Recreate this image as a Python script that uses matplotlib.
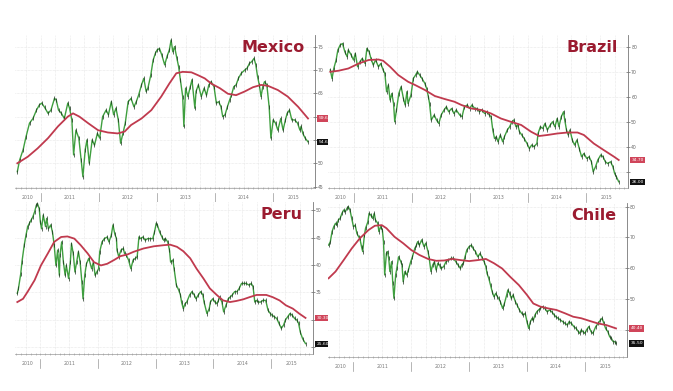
import numpy as np
import matplotlib
matplotlib.use("Agg")
import matplotlib.pyplot as plt
import matplotlib.transforms as mtransforms

# ---- data (fractional years, index level) ----
mx_x = [2010.60, 2010.64, 2010.70, 2010.75, 2010.81, 2010.87, 2010.93, 2010.98, 2011.02, 2011.07,
        2011.13, 2011.18, 2011.24, 2011.27, 2011.31, 2011.36, 2011.41, 2011.47, 2011.50, 2011.54,
        2011.57, 2011.61, 2011.66, 2011.70, 2011.73, 2011.77, 2011.80, 2011.84, 2011.89, 2011.93,
        2011.98, 2012.02, 2012.07, 2012.13, 2012.17, 2012.22, 2012.26, 2012.30, 2012.34, 2012.38,
        2012.42, 2012.46, 2012.51, 2012.56, 2012.61, 2012.65, 2012.69, 2012.74, 2012.78, 2012.82,
        2012.85, 2012.90, 2012.94, 2012.98, 2013.01, 2013.05, 2013.09, 2013.14, 2013.18, 2013.22,
        2013.25, 2013.28, 2013.31, 2013.35, 2013.38, 2013.41, 2013.45, 2013.47, 2013.50, 2013.54,
        2013.58, 2013.61, 2013.66, 2013.68, 2013.72, 2013.77, 2013.82, 2013.86, 2013.90, 2013.94,
        2013.99, 2014.03, 2014.07, 2014.11, 2014.14, 2014.18, 2014.22, 2014.26, 2014.29, 2014.33,
        2014.37, 2014.41, 2014.46, 2014.52, 2014.56, 2014.60, 2014.64, 2014.68, 2014.71, 2014.74,
        2014.77, 2014.80, 2014.83, 2014.86, 2014.90, 2014.94, 2014.97, 2015.01, 2015.05, 2015.09,
        2015.14, 2015.18, 2015.22, 2015.25, 2015.29, 2015.33, 2015.38, 2015.43, 2015.47, 2015.49,
        2015.52, 2015.56, 2015.61]
mx_y = [48.2, 50.7, 52.9, 55.7, 58.6, 59.6, 61.4, 62.5, 62.9, 62.0,
        60.7, 61.4, 63.9, 63.6, 61.4, 60.7, 59.6, 62.9, 61.8, 59.3,
        51.8, 57.1, 55.4, 50.7, 47.1, 52.9, 55.0, 50.0, 55.0, 53.9,
        56.4, 55.4, 60.0, 61.4, 60.4, 63.2, 60.4, 61.8, 59.3, 54.3,
        56.4, 58.6, 63.2, 63.9, 62.1, 63.2, 64.6, 66.8, 68.2, 65.4,
        66.1, 68.9, 72.1, 73.6, 74.3, 74.6, 73.2, 71.1, 72.9, 74.3,
        76.4, 73.9, 75.0, 72.5, 70.7, 67.9, 64.3, 57.9, 66.1, 64.3,
        66.4, 67.9, 61.8, 65.4, 66.8, 64.3, 66.1, 64.6, 66.8, 67.5,
        66.4, 62.9, 63.2, 62.1, 60.0, 60.4, 62.1, 63.6, 64.6, 66.4,
        66.8, 68.2, 69.3, 70.0, 70.4, 71.4, 71.8, 72.5, 71.1, 68.6,
        66.8, 64.3, 66.4, 67.5, 66.8, 62.1, 55.4, 59.3, 58.6, 57.1,
        59.6, 57.1, 59.3, 60.7, 61.4, 59.3, 59.3, 58.6, 57.1, 57.9,
        56.4, 55.4, 54.6]
mx_ma_x = [2010.60, 2010.78, 2010.95, 2011.13, 2011.30, 2011.47, 2011.56, 2011.67, 2011.82, 2011.99,
           2012.16, 2012.33, 2012.45, 2012.56, 2012.74, 2012.91, 2013.08, 2013.22, 2013.34, 2013.45,
           2013.60, 2013.71, 2013.83, 2013.94, 2014.09, 2014.23, 2014.37, 2014.52, 2014.66, 2014.80,
           2014.92, 2015.09, 2015.26, 2015.44, 2015.61]
mx_ma_y = [50.0, 51.4, 53.2, 55.4, 57.9, 60.0, 60.7, 60.0, 58.6, 57.1,
           56.6, 56.4, 56.8, 58.2, 59.6, 61.4, 64.3, 67.1, 69.3, 69.6,
           69.5, 68.9, 68.2, 67.1, 66.1, 64.9, 64.6, 65.4, 66.3, 66.8,
           66.6, 65.7, 64.3, 62.1, 59.6]

br_x = [2010.60, 2010.63, 2010.66, 2010.70, 2010.73, 2010.77, 2010.81, 2010.85, 2010.89, 2010.91,
        2010.96, 2011.00, 2011.03, 2011.07, 2011.11, 2011.15, 2011.20, 2011.23, 2011.27, 2011.30,
        2011.34, 2011.38, 2011.43, 2011.47, 2011.51, 2011.54, 2011.57, 2011.60, 2011.63, 2011.66,
        2011.69, 2011.71, 2011.74, 2011.78, 2011.82, 2011.86, 2011.89, 2011.92, 2011.94, 2011.99,
        2012.03, 2012.07, 2012.10, 2012.14, 2012.18, 2012.23, 2012.26, 2012.29, 2012.31, 2012.34,
        2012.39, 2012.43, 2012.47, 2012.51, 2012.56, 2012.60, 2012.64, 2012.69, 2012.73, 2012.77,
        2012.83, 2012.87, 2012.91, 2012.96, 2013.00, 2013.04, 2013.09, 2013.13, 2013.17, 2013.21,
        2013.26, 2013.30, 2013.34, 2013.37, 2013.40, 2013.43, 2013.46, 2013.49, 2013.53, 2013.57,
        2013.60, 2013.65, 2013.69, 2013.73, 2013.76, 2013.80, 2013.83, 2013.86, 2013.90, 2013.94,
        2013.99, 2014.03, 2014.07, 2014.11, 2014.16, 2014.18, 2014.22, 2014.26, 2014.30, 2014.34,
        2014.39, 2014.43, 2014.47, 2014.51, 2014.54, 2014.58, 2014.62, 2014.64, 2014.67, 2014.70,
        2014.73, 2014.77, 2014.81, 2014.85, 2014.89, 2014.93, 2014.97, 2015.02, 2015.06, 2015.10,
        2015.13, 2015.17, 2015.21, 2015.26, 2015.30, 2015.34, 2015.38, 2015.43, 2015.47, 2015.50,
        2015.53, 2015.57]
br_y = [70.7, 67.3, 71.3, 74.7, 78.7, 80.7, 81.3, 78.0, 76.0, 78.7,
        76.7, 74.7, 77.3, 72.0, 74.0, 75.3, 73.3, 79.3, 78.0, 75.3,
        72.7, 74.7, 72.0, 73.3, 70.7, 69.3, 62.0, 64.7, 58.7, 61.3,
        57.3, 50.0, 54.7, 61.3, 64.0, 59.3, 56.7, 62.0, 57.3, 60.7,
        67.3, 68.7, 70.0, 68.7, 67.3, 65.3, 63.3, 60.0, 57.3, 50.7,
        52.7, 50.7, 49.3, 52.7, 54.7, 56.0, 54.0, 55.3, 53.3, 54.7,
        52.7, 52.0, 56.0, 56.7, 55.3, 56.7, 55.3, 55.3, 54.0, 54.7,
        53.3, 54.0, 52.7, 52.0, 46.7, 43.3, 44.0, 42.0, 44.7, 42.0,
        44.0, 46.7, 48.0, 50.0, 50.7, 48.0, 48.7, 46.0, 44.7, 43.3,
        41.3, 39.3, 40.7, 40.0, 41.3, 45.3, 48.0, 47.3, 49.3, 46.7,
        48.7, 50.0, 48.0, 51.3, 48.0, 52.0, 54.0, 50.7, 46.7, 44.7,
        46.7, 42.7, 40.7, 42.7, 39.3, 36.0, 37.3, 35.3, 36.0, 34.0,
        30.0, 32.0, 34.7, 36.7, 36.0, 34.0, 33.3, 34.0, 32.0, 29.3,
        28.0, 26.0]
br_ma_x = [2010.60, 2010.74, 2010.91, 2011.09, 2011.26, 2011.43, 2011.51, 2011.63, 2011.77, 2011.94,
           2012.06, 2012.23, 2012.40, 2012.57, 2012.74, 2012.86, 2013.03, 2013.20, 2013.37, 2013.54,
           2013.71, 2013.89, 2014.06, 2014.20, 2014.34, 2014.51, 2014.69, 2014.86, 2014.97, 2015.14,
           2015.31, 2015.49, 2015.57]
br_ma_y = [70.0, 70.4, 71.3, 73.3, 74.7, 74.9, 74.4, 72.0, 68.7, 66.0,
           64.7, 62.7, 60.3, 59.1, 58.0, 56.7, 55.3, 54.7, 53.3, 51.3,
           50.0, 48.7, 46.0, 44.3, 44.7, 45.3, 45.7, 45.7, 44.7, 41.3,
           38.7, 36.0, 34.7]

pe_x = [2010.60, 2010.62, 2010.66, 2010.68, 2010.72, 2010.75, 2010.78, 2010.81, 2010.84, 2010.87,
        2010.90, 2010.93, 2010.95, 2010.98, 2011.00, 2011.02, 2011.05, 2011.09, 2011.11, 2011.14,
        2011.18, 2011.21, 2011.24, 2011.27, 2011.30, 2011.33, 2011.34, 2011.37, 2011.40, 2011.43,
        2011.45, 2011.49, 2011.52, 2011.54, 2011.57, 2011.60, 2011.63, 2011.66, 2011.69, 2011.72,
        2011.74, 2011.77, 2011.80, 2011.84, 2011.89, 2011.92, 2011.95, 2011.98, 2012.01, 2012.03,
        2012.07, 2012.11, 2012.16, 2012.19, 2012.23, 2012.26, 2012.29, 2012.32, 2012.33, 2012.36,
        2012.40, 2012.44, 2012.46, 2012.49, 2012.53, 2012.57, 2012.61, 2012.65, 2012.68, 2012.71,
        2012.74, 2012.78, 2012.82, 2012.86, 2012.91, 2012.95, 2012.98, 2013.01, 2013.03, 2013.07,
        2013.11, 2013.14, 2013.17, 2013.21, 2013.24, 2013.26, 2013.30, 2013.32, 2013.36, 2013.40,
        2013.43, 2013.45, 2013.48, 2013.51, 2013.54, 2013.59, 2013.63, 2013.67, 2013.70, 2013.74,
        2013.78, 2013.82, 2013.84, 2013.89, 2013.93, 2013.95, 2013.99, 2014.03, 2014.06, 2014.09,
        2014.11, 2014.15, 2014.18, 2014.22, 2014.26, 2014.29, 2014.33, 2014.37, 2014.41, 2014.45,
        2014.49, 2014.53, 2014.57, 2014.62, 2014.66, 2014.69, 2014.72, 2014.75, 2014.78, 2014.82,
        2014.86, 2014.91, 2014.95, 2014.99, 2015.02, 2015.06, 2015.10, 2015.14, 2015.18, 2015.22,
        2015.25, 2015.29, 2015.33, 2015.37, 2015.41, 2015.45, 2015.48, 2015.51, 2015.55, 2015.60]
pe_y = [34.8, 35.7, 38.4, 40.5, 43.6, 45.4, 47.0, 47.6, 48.2, 48.8,
        49.7, 50.9, 51.2, 50.3, 47.9, 46.6, 49.1, 47.0, 48.5, 46.6,
        47.3, 46.0, 43.6, 39.9, 42.7, 38.1, 41.8, 44.2, 40.5, 38.1,
        39.9, 37.5, 40.5, 43.9, 42.1, 38.7, 40.5, 42.4, 40.5, 36.9,
        33.8, 38.1, 40.2, 41.2, 39.3, 40.5, 38.1, 38.7, 39.3, 42.4,
        44.2, 44.8, 45.1, 44.2, 45.4, 47.3, 45.7, 44.8, 42.7, 41.5,
        42.7, 43.0, 42.1, 41.8, 40.9, 39.3, 40.9, 41.2, 41.5, 45.1,
        44.8, 45.1, 44.5, 44.8, 44.8, 44.8, 46.0, 47.6, 47.3, 46.0,
        45.1, 44.5, 44.8, 44.2, 42.7, 40.5, 40.9, 39.3, 36.3, 35.4,
        34.5, 33.2, 32.0, 32.9, 33.2, 34.5, 35.1, 34.5, 33.8, 34.5,
        35.1, 34.5, 33.2, 31.1, 32.0, 33.2, 33.8, 33.2, 32.9, 33.5,
        34.1, 33.2, 31.4, 32.6, 33.8, 34.1, 34.5, 35.1, 35.1, 35.7,
        36.6, 36.6, 36.6, 36.3, 36.6, 36.0, 33.2, 33.5, 33.2, 33.2,
        33.5, 33.5, 31.7, 31.1, 30.8, 30.5, 30.2, 29.3, 28.4, 29.0,
        29.9, 30.5, 31.1, 30.8, 30.2, 29.9, 29.3, 27.7, 26.5, 25.6]
pe_ma_x = [2010.60, 2010.70, 2010.78, 2010.90, 2011.01, 2011.13, 2011.24, 2011.36, 2011.47, 2011.59,
           2011.70, 2011.82, 2011.93, 2012.05, 2012.16, 2012.28, 2012.39, 2012.51, 2012.62, 2012.79,
           2012.97, 2013.14, 2013.25, 2013.37, 2013.48, 2013.60, 2013.71, 2013.83, 2013.94, 2014.06,
           2014.17, 2014.29, 2014.40, 2014.52, 2014.63, 2014.75, 2014.92, 2015.03, 2015.15, 2015.26,
           2015.38, 2015.49, 2015.60]
pe_ma_y = [33.2, 33.8, 35.1, 37.2, 39.9, 42.1, 44.2, 45.1, 45.2, 44.8,
           43.6, 42.1, 40.5, 39.9, 40.2, 40.9, 41.6, 41.9, 42.4, 43.0,
           43.4, 43.6, 43.7, 43.3, 42.5, 41.2, 39.3, 37.5, 35.7, 34.5,
           33.5, 33.2, 33.4, 33.7, 34.1, 34.5, 34.5, 34.1, 33.5, 32.6,
           32.0, 31.1, 30.3]

cl_x = [2010.57, 2010.60, 2010.63, 2010.66, 2010.69, 2010.71, 2010.74, 2010.77, 2010.80, 2010.83,
        2010.86, 2010.89, 2010.91, 2010.94, 2010.97, 2011.00, 2011.03, 2011.06, 2011.09, 2011.11,
        2011.14, 2011.16, 2011.19, 2011.21, 2011.25, 2011.27, 2011.30, 2011.33, 2011.36, 2011.38,
        2011.42, 2011.44, 2011.47, 2011.50, 2011.52, 2011.54, 2011.57, 2011.59, 2011.61, 2011.63,
        2011.66, 2011.68, 2011.70, 2011.73, 2011.75, 2011.78, 2011.82, 2011.84, 2011.86, 2011.89,
        2011.92, 2011.95, 2011.99, 2012.02, 2012.06, 2012.09, 2012.11, 2012.14, 2012.18, 2012.22,
        2012.25, 2012.29, 2012.31, 2012.34, 2012.37, 2012.40, 2012.43, 2012.46, 2012.49, 2012.51,
        2012.56, 2012.60, 2012.64, 2012.69, 2012.73, 2012.77, 2012.81, 2012.85, 2012.87, 2012.90,
        2012.93, 2012.96, 2013.00, 2013.04, 2013.07, 2013.11, 2013.15, 2013.19, 2013.23, 2013.26,
        2013.29, 2013.31, 2013.34, 2013.37, 2013.40, 2013.43, 2013.46, 2013.49, 2013.51, 2013.54,
        2013.58, 2013.61, 2013.65, 2013.67, 2013.70, 2013.73, 2013.76, 2013.80, 2013.83, 2013.87,
        2013.91, 2013.94, 2013.97, 2014.00, 2014.03, 2014.06, 2014.09, 2014.11, 2014.14, 2014.17,
        2014.20, 2014.23, 2014.27, 2014.31, 2014.35, 2014.39, 2014.43, 2014.47, 2014.50, 2014.54,
        2014.58, 2014.62, 2014.66, 2014.70, 2014.73, 2014.77, 2014.81, 2014.85, 2014.89, 2014.91,
        2014.94, 2014.97, 2015.00, 2015.03, 2015.07, 2015.11, 2015.14, 2015.19, 2015.23, 2015.27,
        2015.30, 2015.33, 2015.36, 2015.40, 2015.43, 2015.46, 2015.49, 2015.52, 2015.54]
cl_y = [67.5, 68.6, 71.9, 73.5, 74.6, 74.0, 75.7, 76.2, 77.8, 78.9,
        78.4, 79.5, 80.0, 78.9, 76.2, 73.5, 74.0, 71.3, 70.2, 69.7,
        67.0, 65.4, 70.8, 73.0, 75.1, 77.8, 77.3, 76.2, 77.8, 75.7,
        74.6, 71.9, 73.5, 72.4, 68.6, 57.8, 64.8, 65.4, 63.2, 58.9,
        62.1, 55.1, 50.2, 57.8, 59.9, 63.7, 62.1, 61.0, 55.6, 58.9,
        57.8, 59.4, 62.1, 63.7, 66.4, 67.5, 68.6, 67.5, 69.2, 67.0,
        68.1, 65.4, 63.2, 58.9, 61.0, 62.1, 59.4, 61.6, 61.0, 59.9,
        60.5, 62.1, 62.6, 63.2, 63.2, 62.1, 61.0, 59.9, 61.0, 61.6,
        63.7, 65.9, 67.0, 67.5, 66.4, 65.4, 63.7, 64.8, 63.2, 62.1,
        60.5, 58.3, 56.7, 54.5, 52.3, 50.7, 51.8, 50.7, 50.2, 49.1,
        46.9, 48.5, 51.3, 52.9, 51.8, 50.2, 51.3, 49.1, 48.0, 46.4,
        45.3, 44.8, 45.3, 42.6, 40.4, 42.6, 43.7, 43.1, 44.8, 45.8,
        46.4, 46.9, 47.5, 46.9, 45.8, 46.4, 45.8, 44.8, 44.2, 43.7,
        43.1, 42.6, 42.0, 41.5, 42.6, 42.0, 41.0, 40.4, 39.3, 38.8,
        39.9, 39.3, 38.8, 39.9, 41.0, 39.3, 38.8, 41.0, 42.0, 43.1,
        43.7, 42.0, 40.4, 39.3, 37.7, 37.2, 36.1, 36.1, 35.5]
cl_ma_x = [2010.57, 2010.69, 2010.83, 2010.97, 2011.11, 2011.26, 2011.37, 2011.49, 2011.57, 2011.71,
           2011.86, 2012.00, 2012.14, 2012.29, 2012.43, 2012.57, 2012.71, 2012.86, 2013.00, 2013.14,
           2013.29, 2013.43, 2013.57, 2013.71, 2013.86, 2014.00, 2014.11, 2014.23, 2014.37, 2014.51,
           2014.66, 2014.80, 2014.94, 2015.09, 2015.23, 2015.37, 2015.54]
cl_ma_y = [56.7, 58.9, 62.6, 66.4, 69.7, 72.4, 73.8, 74.0, 73.0, 70.2,
           68.1, 65.9, 64.3, 63.0, 62.4, 62.5, 63.0, 62.6, 62.3, 62.6,
           63.0, 61.6, 59.9, 57.2, 54.5, 51.3, 48.5, 47.5, 46.9, 46.4,
           45.3, 44.2, 43.7, 42.8, 42.0, 41.5, 40.4]

years = [2010, 2011, 2012, 2013, 2014, 2015]

GREEN = "#3f9f3f"
DARK = "#1e3320"
RED = "#c03a4e"
TITLE_RED = "#9b1b30"
XMIN, XMAX = 2010.56, 2015.73

panels = [
    # title, price x/y, ma x/y, ylim, yticks, pixel box (left, top, right, bottom)
    ("Mexico", mx_x, mx_y, mx_ma_x, mx_ma_y, (44.7, 77.5), [45, 50, 55, 60, 65, 70, 75], (15, 35, 315, 188)),
    ("Brazil", br_x, br_y, br_ma_x, br_ma_y, (23.5, 84.7), [30, 40, 50, 60, 70, 80], (328, 35, 628, 188)),
    ("Peru", pe_x, pe_y, pe_ma_x, pe_ma_y, (23.7, 51.5), [25, 30, 35, 40, 45, 50], (15, 202, 313, 354)),
    ("Chile", cl_x, cl_y, cl_ma_x, cl_ma_y, (31.1, 81.2), [40, 50, 60, 70, 80], (328, 203, 627, 357)),
]

W, H = 673, 391
fig = plt.figure(figsize=(W / 100, H / 100), dpi=100)
fig.patch.set_facecolor("white")

for title, px, py, mx, my, ylim, yticks, (l, t, r, b) in panels:
    ax = fig.add_axes([l / W, 1 - b / H, (r - l) / W, (b - t) / H])
    ax.set_xlim(XMIN, XMAX)
    ax.set_ylim(*ylim)

    # grid: quarterly verticals, horizontals at ticks
    for q in np.arange(2010.75, XMAX, 0.25):
        ax.axvline(q, color="#d4d4d4", lw=0.4, ls=(0, (1, 1.5)), zorder=0)
    for yt in yticks:
        ax.axhline(yt, color="#d4d4d4", lw=0.4, ls=(0, (1, 1.5)), zorder=0)

    ax.plot(px, py, color=GREEN, lw=1.0, zorder=2)
    ax.plot(px, py, ls="none", marker="|", ms=2.2, mew=0.5, color=DARK, zorder=3)
    ax.plot(mx, my, color=RED, lw=1.3, zorder=4)

    # spines
    for s in ("left", "top"):
        ax.spines[s].set_visible(False)
    ax.spines["right"].set_color("#777777")
    ax.spines["right"].set_linewidth(0.6)
    ax.spines["bottom"].set_color("#999999")
    ax.spines["bottom"].set_linewidth(0.5)

    # tick labels hidden behind the last-value flags, as in the source
    step = yticks[1] - yticks[0]
    flags = (my[-1], py[-1])
    ax.yaxis.tick_right()
    ax.set_yticks(yticks)
    ax.set_yticklabels(["" if min(abs(v - f) for f in flags) < 0.5 * step else str(v)
                        for v in yticks])
    ax.tick_params(axis="y", direction="inout", length=2.5, width=0.5, colors="#666666",
                   labelsize=3.3, pad=1)
    months = np.arange(2010 + 7 / 12, XMAX, 1 / 12)
    ax.set_xticks(months)
    ax.set_xticklabels([])
    ax.tick_params(axis="x", direction="inout", length=2, width=0.4, colors="#999999")

    trans = mtransforms.blended_transform_factory(ax.transData, ax.transAxes)
    for yr in years:
        lo, hi = max(yr, XMIN), min(yr + 1, XMAX)
        ax.text((lo + hi) / 2, -0.06, str(yr), transform=trans, ha="center", va="center",
                fontsize=3.3, color="#777777", clip_on=False)
        if XMIN < yr < XMAX:
            ax.plot([yr, yr], [-0.03, -0.09], transform=trans, color="#999999", lw=0.5,
                    clip_on=False)

    # last-value flags
    ytrans = mtransforms.blended_transform_factory(ax.transAxes, ax.transData)
    ax.text(1.012, my[-1], f"{my[-1]:.2f}", transform=ytrans, ha="left", va="center",
            fontsize=3.2, color="white", clip_on=False, zorder=6,
            bbox=dict(boxstyle="square,pad=0.25", fc="#d0455a", ec="none"))
    ax.text(1.012, py[-1], f"{py[-1]:.2f}", transform=ytrans, ha="left", va="center",
            fontsize=3.2, color="white", clip_on=False, zorder=6,
            bbox=dict(boxstyle="square,pad=0.25", fc="#111111", ec="none"))

    ax.text(0.965, 0.92, title, transform=ax.transAxes, ha="right", va="center",
            fontsize=11.5, fontweight="bold", color=TITLE_RED, zorder=7)

fig.savefig("out.png", dpi=100, facecolor="white")
